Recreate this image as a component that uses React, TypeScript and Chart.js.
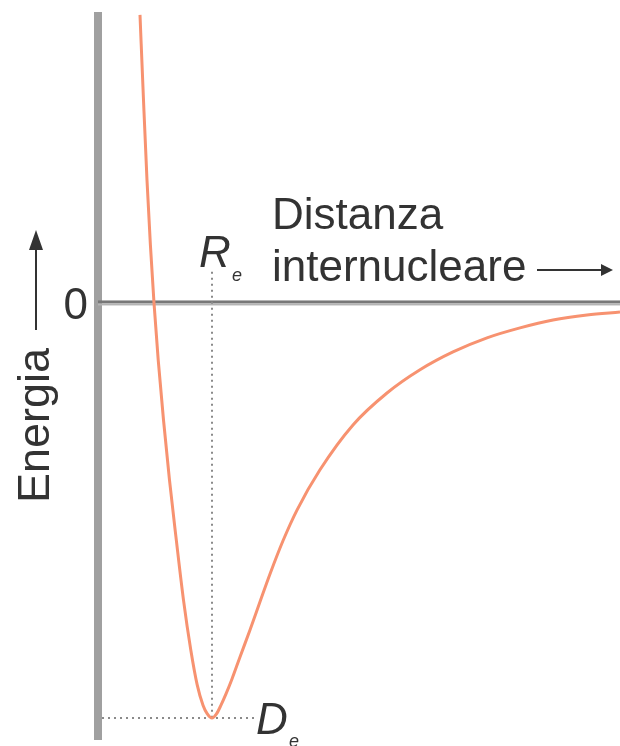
import React, { useEffect, useRef } from "react";
import { Chart, registerables } from "chart.js";

Chart.register(...registerables);

// Internuclear distance (arbitrary units, Re = 10)
const distance = [
  3.684, 3.991, 4.298, 4.596, 4.912, 5.281, 5.746, 6.272, 6.868, 7.5, 8.14, 8.702, 9.211, 9.588,
  10.0, 10.395, 10.789, 11.228, 11.754, 12.456, 13.333, 14.211, 15.088, 16.228, 17.456, 19.474,
  22.368, 25.351, 28.246, 31.14, 34.123, 37.018, 39.912, 42.895, 45.789,
];
// Energy (units of De, minimum = -1)
const energy = [
  0.694, 0.489, 0.296, 0.14, 0.0, -0.137, -0.282, -0.427, -0.571, -0.716, -0.836, -0.92, -0.969,
  -0.99, -1.0, -0.99, -0.969, -0.942, -0.906, -0.853, -0.788, -0.72, -0.653, -0.573, -0.499,
  -0.402, -0.294, -0.217, -0.161, -0.118, -0.084, -0.06, -0.041, -0.029, -0.022,
];
const Re = [10];
const De = [-1];
const xRange = [0, 45.79];
const yRange = [-1.053, 0.701];
const labels = ["Distanza", "internucleare", "Energia", "0", "R", "D", "e"];

const FONT = '"Liberation Sans", Arial, sans-serif';
const TEXT = "#333333";

const decorPlugin = {
  id: "decor",
  beforeDatasetsDraw(chart: any) {
    const { ctx, chartArea, scales } = chart;
    const x = scales.x;
    const y = scales.y;
    const x0 = x.getPixelForValue(0);
    const y0 = y.getPixelForValue(0);
    ctx.save();
    // vertical energy axis
    ctx.fillStyle = "#a0a0a0";
    ctx.fillRect(x0 - 4, chartArea.top, 8, chartArea.bottom - chartArea.top);
    // zero line
    ctx.fillStyle = "#787878";
    ctx.fillRect(x0, y0 - 2.5, chartArea.right - x0, 3);
    ctx.fillStyle = "#b4b4b4";
    ctx.fillRect(x0, y0 + 0.5, chartArea.right - x0, 2);
    // dotted lines
    ctx.strokeStyle = "#8a8a8a";
    ctx.lineWidth = 2;
    ctx.setLineDash([2, 4]);
    const xr = x.getPixelForValue(Re[0]);
    const yd = y.getPixelForValue(De[0]);
    ctx.beginPath();
    ctx.moveTo(xr, y.getPixelForValue(0.075));
    ctx.lineTo(xr, yd);
    ctx.stroke();
    ctx.beginPath();
    ctx.moveTo(x0 + 4, yd);
    ctx.lineTo(x.getPixelForValue(13.8), yd);
    ctx.stroke();
    ctx.restore();
  },
  afterDraw(chart: any) {
    const { ctx, scales } = chart;
    const x = scales.x;
    const y = scales.y;
    const y0 = y.getPixelForValue(0);
    const xr = x.getPixelForValue(Re[0]);
    const yd = y.getPixelForValue(De[0]);
    ctx.save();
    ctx.fillStyle = TEXT;
    ctx.strokeStyle = TEXT;
    ctx.textBaseline = "alphabetic";
    ctx.font = `44px ${FONT}`;
    ctx.textAlign = "left";
    ctx.fillText(labels[0], 272, 229);
    ctx.fillText(labels[1], 272, 281);
    // right arrow
    ctx.lineWidth = 2;
    ctx.beginPath();
    ctx.moveTo(537, 270);
    ctx.lineTo(604, 270);
    ctx.stroke();
    ctx.beginPath();
    ctx.moveTo(613, 270);
    ctx.lineTo(601, 264);
    ctx.lineTo(601, 276);
    ctx.closePath();
    ctx.fill();
    // zero
    ctx.textAlign = "right";
    ctx.fillText(labels[3], 88, y0 + 16);
    // Energia rotated
    ctx.save();
    ctx.translate(49, 503);
    ctx.rotate(-Math.PI / 2);
    ctx.textAlign = "left";
    ctx.font = `45px ${FONT}`;
    ctx.fillText(labels[2], 0, 0);
    ctx.restore();
    // up arrow
    ctx.beginPath();
    ctx.moveTo(36, 330);
    ctx.lineTo(36, 245);
    ctx.stroke();
    ctx.beginPath();
    ctx.moveTo(36, 230);
    ctx.lineTo(29, 250);
    ctx.lineTo(43, 250);
    ctx.closePath();
    ctx.fill();
    // Re label
    ctx.textAlign = "left";
    ctx.font = `italic 44px ${FONT}`;
    ctx.fillText(labels[4], xr - 13, 267);
    ctx.font = `italic 18px ${FONT}`;
    ctx.fillText(labels[6], xr + 20, 281);
    // De label
    ctx.font = `italic 44px ${FONT}`;
    ctx.fillText(labels[5], xr + 44, yd + 16);
    ctx.font = `italic 18px ${FONT}`;
    ctx.fillText(labels[6], xr + 77, yd + 29);
    ctx.restore();
  },
};

export default function App() {
  const ref = useRef<HTMLCanvasElement>(null);
  useEffect(() => {
    if (!ref.current) return;
    const chart = new Chart(ref.current, {
      type: "line",
      data: {
        datasets: [
          {
            data: distance.map((d, i) => ({ x: d, y: energy[i] })),
            borderColor: "rgb(247,146,112)",
            borderWidth: 3,
            pointRadius: 0,
            fill: false,
            cubicInterpolationMode: "monotone",
          },
        ],
      },
      options: {
        responsive: false,
        animation: false,
        layout: { padding: { left: 98, right: 0, top: 12, bottom: 6 } },
        plugins: { legend: { display: false }, tooltip: { enabled: false }, title: { display: false } },
        scales: {
          x: { type: "linear", min: xRange[0], max: xRange[1], display: false },
          y: { type: "linear", min: yRange[0], max: yRange[1], display: false },
        },
      },
      plugins: [decorPlugin],
    });
    return () => chart.destroy();
  }, []);
  return (
    <div style={{ position: "fixed", left: 0, top: 0, width: 620, height: 746, background: "#fff" }}>
      <canvas ref={ref} width={620} height={746} />
    </div>
  );
}
